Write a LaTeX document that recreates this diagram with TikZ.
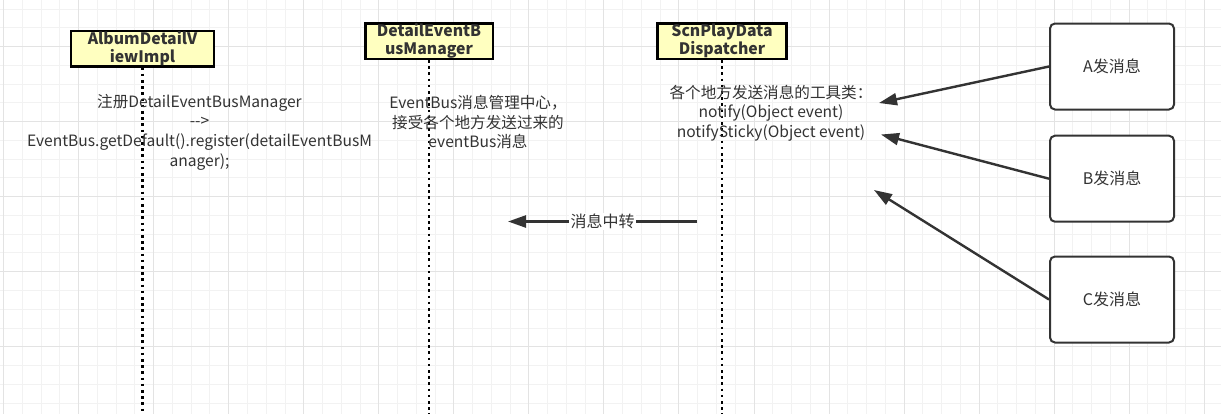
\documentclass[tikz,border=0pt]{standalone}
\usepackage{fontspec}
\setmainfont{Noto Sans CJK SC}
\usetikzlibrary{arrows.meta, positioning}
\definecolor{lifefill}{HTML}{FFFFC0}
\definecolor{inkgray}{HTML}{333333}
\definecolor{minorgrid}{HTML}{F2F2F2}
\definecolor{majorgrid}{HTML}{E3E3E3}
\tikzset{
  lifehead/.style={
    draw=black,
    line width=2.5bp,
    fill=lifefill,
    rectangle,
    minimum height=35.5bp,
    align=center,
    inner sep=0pt,
    text=inkgray,
    font=\bfseries\fontsize{15.8bp}{18bp}\selectfont,
  },
  lifeline/.style={
    line width=2.6bp,
    dash pattern=on 2.6bp off 3.6bp,
    black
  },
  note/.style={
    align=center,
    inner sep=0pt,
    text=inkgray,
    font=\fontsize{15.6bp}{19.6bp}\selectfont,
  },
  sender/.style={
    draw=inkgray,
    line width=2bp,
    rounded corners=5bp,
    fill=white,
    minimum width=124bp,
    minimum height=86bp,
    text=inkgray,
    font=\fontsize{16bp}{18bp}\selectfont,
  },
  msg/.style={
    -{Triangle[length=18bp,width=12bp]},
    line width=2.4bp,
    draw=inkgray
  }
}

\begin{document}
\begin{tikzpicture}[x=1bp,y=-1bp]

% --- Background and grid ---
\fill[white] (0,0) rectangle (1221,414);
\useasboundingbox (0,0) rectangle (1221,414);
\foreach \k in {0,...,64}
  \draw[minorgrid, line width=1bp] ({3.6+18.76*\k},0) -- ++(0,414);
\foreach \k in {0,...,21}
  \draw[minorgrid, line width=1bp] (0,{9.1+18.76*\k}) -- ++(1221,0);
\foreach \k in {0,...,16}
  \draw[majorgrid, line width=1bp] ({3.6+75.04*\k},0) -- ++(0,414);
\foreach \k in {0,...,4}
  \draw[majorgrid, line width=1bp] (0,{46.6+75.04*\k}) -- ++(1221,0);

% --- Lifelines ---
\coordinate (bottom) at (0,414);
\node[lifehead, minimum width=142.5bp] (album) at (142.5,48.5) {AlbumDetailV\\iewImpl};
\node[lifehead, minimum width=127.5bp] (busmgr) at (429,41) {DetailEventB\\usManager};
\node[lifehead, minimum width=129bp] (dispatch) at (722,41) {ScnPlayData\\Dispatcher};

\draw[lifeline] (album.south) -- (album.south |- bottom);
\draw[lifeline] (busmgr.south) -- (busmgr.south |- bottom);
\draw[lifeline] (dispatch.south) -- (dispatch.south |- bottom);

% --- Notes ---
\node[note] (regnote) at (199.5,132) {注册DetailEventBusManager\\-{}-{}>\\EventBus.getDefault().register(detailEventBusM\\anager);};
\node[note] (busnote) at (478,122) {EventBus消息管理中心，\\接受各个地方发送过来的\\eventBus消息};
\node[note] (toolnote) at (771,113) {各个地方发送消息的工具类：\\notify(Object event)\\notifySticky(Object event)};

% --- Relay arrow ---
\coordinate (relayfrom) at (697,221.5);
\coordinate (relayto) at (508,221.5);
\draw[msg] (relayfrom) -- node[note, fill=white, inner sep=1.5bp, font=\fontsize{16bp}{18bp}\selectfont] (relaylabel) {消息中转} (relayto);

% --- Senders ---
\node[sender] (senda) at (1112,66.5) {A发消息};
\node[sender] (sendb) at (1112,178.7) {B发消息};
\node[sender] (sendc) at (1112,299.5) {C发消息};

\coordinate (tipa) at (879,103);
\coordinate (tipb) at (881,134.5);
\coordinate (tipc) at (874,190);
\draw[msg] (senda.west) -- (tipa);
\draw[msg] (sendb.west) -- (tipb);
\draw[msg] (sendc.west) -- (tipc);

\end{tikzpicture}
\end{document}
